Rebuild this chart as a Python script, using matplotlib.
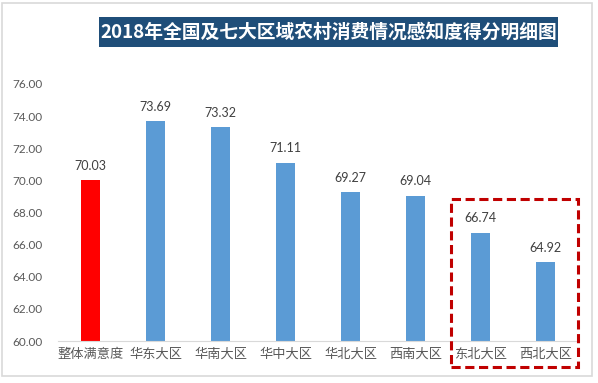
import matplotlib
matplotlib.use("Agg")
import matplotlib.pyplot as plt
from matplotlib.patches import Rectangle

plt.rcParams['font.family'] = ['Noto Sans CJK SC', 'DejaVu Sans']

categories = ["整体满意度", "华东大区", "华南大区", "华中大区", "华北大区", "西南大区", "东北大区", "西北大区"]
values = [70.03, 73.69, 73.32, 71.11, 69.27, 69.04, 66.74, 64.92]
yticks = [60, 62, 64, 66, 68, 70, 72, 74, 76]
title = "2018年全国及七大区域农村消费情况感知度得分明细图"

W, H = 598, 383
fig = plt.figure(figsize=(W / 100, H / 100), dpi=100)
fig.patch.set_facecolor("white")

# outer light frame
fig.add_artist(Rectangle((2 / W, (H - 376) / H), 590 / W, 373 / H, transform=fig.transFigure,
                         fill=False, edgecolor="#D9D9D9", linewidth=1.2))

ax = fig.add_axes([58 / W, (H - 341) / H, 520 / W, 257 / H])
colors = ["#FF0000"] + ["#5B9BD5"] * (len(values) - 1)
x = list(range(len(categories)))
ax.bar(x, [v - 60 for v in values], bottom=60, width=0.3, color=colors)
ax.set_xlim(-0.5, len(categories) - 0.5)
ax.set_ylim(60, 76)
ax.set_yticks(yticks)
ax.set_yticklabels([f"{t:.2f}" for t in yticks], fontsize=8.5, color="#595959", family=["Lato", "DejaVu Sans"])
ax.set_xticks(x)
ax.set_xticklabels(categories, fontsize=9.5, color="#595959")
ax.tick_params(axis="both", length=0)
ax.tick_params(axis="y", pad=11)
ax.tick_params(axis="x", pad=5)
for s in ["top", "right", "left"]:
    ax.spines[s].set_visible(False)
ax.spines["bottom"].set_color("#D9D9D9")

for xi, v in zip(x, values):
    ax.annotate(f"{v:.2f}", (xi, v), xytext=(0, 6), textcoords="offset points",
                ha="center", va="bottom", fontsize=9, color="#404040", family=["Lato", "DejaVu Sans"])

# title box
fig.add_artist(Rectangle((99 / W, (H - 47) / H), 459 / W, 30 / H, transform=fig.transFigure,
                         facecolor="#1F4E79", edgecolor="none"))
fig.text((99 + 558) / 2 / W, 1 - 32 / H, title, ha="center", va="center", fontsize=13.5,
         fontweight="bold", color="white")

# dashed highlight box
fig.add_artist(Rectangle((451 / W, (H - 367) / H), 127 / W, 168 / H, transform=fig.transFigure,
                         fill=False, edgecolor="#C00000", linewidth=2.2, linestyle=(0, (3, 1.5))))

fig.savefig("out.png", dpi=100)
